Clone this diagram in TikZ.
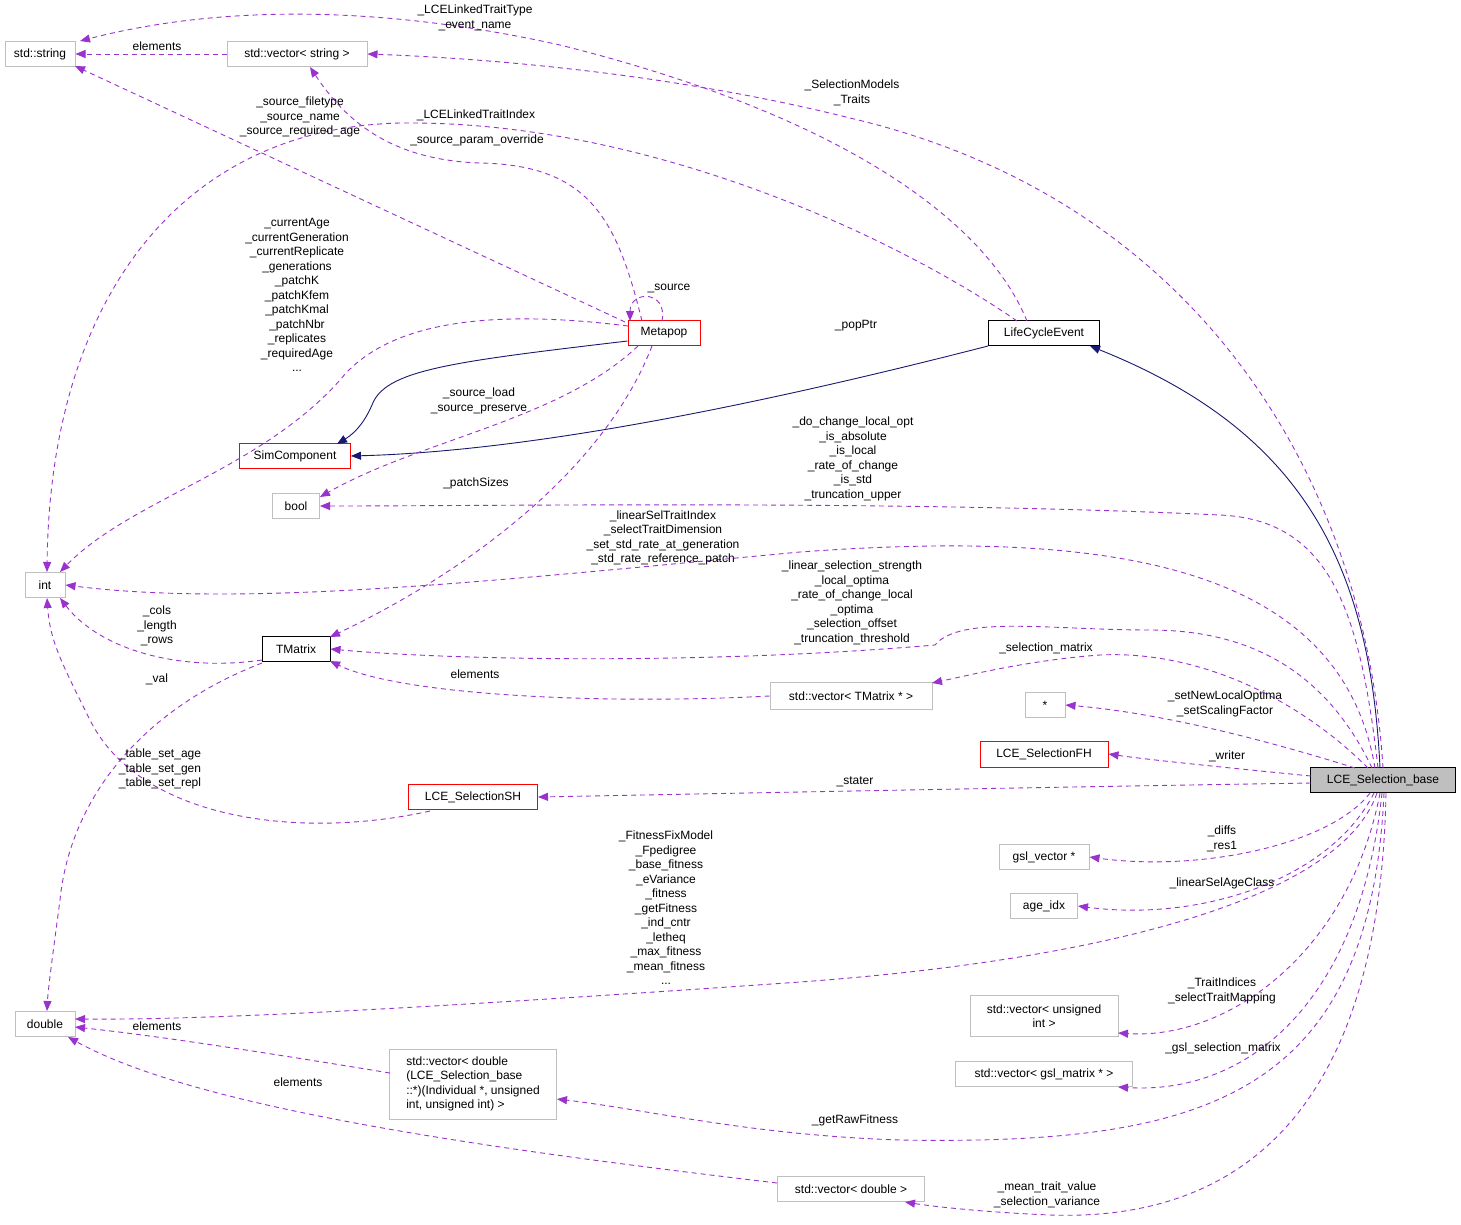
\documentclass[tikz,border=0pt]{standalone}
\usepackage{fontspec}
\setmainfont{Liberation Sans}
\usetikzlibrary{arrows.meta}
\definecolor{pu}{HTML}{9A32CD}
\definecolor{nv}{HTML}{191970}
\definecolor{gb}{HTML}{BFBFBF}
\begin{document}
\begin{tikzpicture}[x=1pt,y=-1pt,
  font=\fontsize{12}{14.5}\selectfont,
  box/.style={draw=gb,line width=1pt,minimum height=25pt,inner sep=4pt,fill=white},
  rbox/.style={box,draw=red},
  kbox/.style={box,draw=black},
  use/.style={draw=pu,line width=0.9pt,dash pattern=on 5pt off 4pt,-{Triangle[length=10pt,width=8pt,fill=pu]}},
  inh/.style={draw=nv,line width=0.9pt,-{Triangle[length=10pt,width=8pt,fill=nv]}},
  lab/.style={align=center,inner sep=0pt}]
\useasboundingbox[fill=white] (0,0) rectangle (1461,1224);
% nodes
\node[box,minimum width=70pt] (str) at (40,54) {std::string};
\node[box,minimum width=140pt] (vs) at (297,54) {std::vector< string >};
\node[rbox,minimum width=72pt] (meta) at (664,333) {Metapop};
\node[kbox,minimum width=111pt] (lce) at (1044,333) {LifeCycleEvent};
\node[rbox,minimum width=111pt] (sim) at (295,456) {SimComponent};
\node[box,minimum width=47pt] (bool) at (296,506) {bool};
\node[box,minimum width=40pt] (int) at (45,585) {int};
\node[kbox,minimum width=68pt] (tm) at (296,649) {TMatrix};
\node[box,minimum width=162pt,minimum height=27pt] (vtm) at (851,696) {std::vector< TMatrix * >};
\node[box,minimum width=40pt] (star) at (1045,705) {*};
\node[rbox,minimum width=128pt,minimum height=26pt] (fh) at (1044,754) {LCE\_SelectionFH};
\node[rbox,minimum width=129pt] (sh) at (473,797) {LCE\_SelectionSH};
\node[box,draw=black,fill=gb,minimum width=145pt] (base) at (1383,780) {LCE\_Selection\_base};
\node[box,minimum width=90pt] (gv) at (1044,857) {gsl\_vector *};
\node[box,minimum width=67pt] (age) at (1044,906) {age\_idx};
\node[box,minimum width=60pt] (dbl) at (45,1024) {double};
\node[box,minimum width=148pt,minimum height=41pt,align=center] (vui) at (1044,1016) {std::vector< unsigned\\int >};
\node[box,minimum width=177pt] (vgm) at (1044,1074) {std::vector< gsl\_matrix * >};
\node[box,minimum width=167pt,minimum height=70pt,align=left] (vdf) at (473,1084) {std::vector< double\\(LCE\_Selection\_base\\::*)(Individual *, unsigned\\int, unsigned int) >};
\node[box,minimum width=147pt] (vd) at (851,1189) {std::vector< double >};
% inheritance
\draw[inh] (meta.west |- 0,341) .. controls (450,362) and (385,370) .. (372,405) .. controls (362,428) and (350,436) .. (337,444);
\draw[inh] (lce.south west) .. controls (700,420) and (500,452) .. (sim.east);
\draw[inh] (1380,768) .. controls (1370,560) and (1300,430) .. (1090,346);
% usage
\draw[use] (vs.west) -- (str.east);
\draw[use] (1027,321) .. controls (990,230) and (860,120) .. (560,45) .. controls (380,5) and (220,5) .. (80,41);
\draw[use] (1383,768) .. controls (1365,480) and (1200,200) .. (850,118) .. controls (650,68) and (450,57) .. (vs.east);
\draw[use] (1017,321) .. controls (900,240) and (650,120) .. (400,123) .. controls (180,128) and (50,300) .. (47,572);
\draw[use] (625,322) -- (75,66);
\draw[use] (642,321) .. controls (617,220) and (590,165) .. (480,163) .. controls (390,160) and (345,120) .. (310,67);
\draw[use] (662,321) .. controls (668,290) and (630,290) .. (630,321);
\draw[use] (628,326) .. controls (500,310) and (390,318) .. (340,380) .. controls (260,470) and (130,500) .. (60,572);
\draw[use] (638,346) .. controls (560,420) and (420,440) .. (320,497);
\draw[use] (652,346) .. controls (600,480) and (450,580) .. (330,637);
\draw[use] (1378,768) .. controls (1360,610) and (1330,520) .. (1220,515) .. controls (900,500) and (500,506) .. (bool.east);
\draw[use] (1375,768) .. controls (1340,560) and (1100,530) .. (800,552) .. controls (500,580) and (250,608) .. (int.east);
\draw[use] (1372,768) .. controls (1330,680) and (1260,630) .. (1150,630) .. controls (1050,630) and (960,615) .. (935,645) .. controls (700,665) and (450,660) .. (tm.east);
\draw[use] (vtm.west) .. controls (600,705) and (400,695) .. (330,661);
\draw[use] (1368,768) .. controls (1300,700) and (1200,650) .. (1100,655) .. controls (1030,660) and (970,675) .. (932,683);
\draw[use] (1355,768) .. controls (1250,735) and (1150,712) .. (star.east);
\draw[use] (1311,776) .. controls (1250,770) and (1150,760) .. (fh.east);
\draw[use] (1311,783) .. controls (1000,788) and (800,792) .. (sh.east);
\draw[use] (430,811) .. controls (300,840) and (140,820) .. (90,720) .. controls (60,660) and (50,640) .. (47,598);
\draw[use] (262,660) .. controls (180,672) and (100,650) .. (60,598);
\draw[use] (262,663) .. controls (140,710) and (70,800) .. (60,900) .. controls (52,960) and (48,990) .. (47,1011);
\draw[use] (1370,793) .. controls (1330,845) and (1200,872) .. (gv.east);
\draw[use] (1374,793) .. controls (1330,880) and (1200,922) .. (age.east);
\draw[use] (1377,793) .. controls (1340,900) and (1100,960) .. (800,982) .. controls (400,1010) and (200,1020) .. (75,1019);
\draw[use] (1380,793) .. controls (1350,950) and (1230,1040) .. (1118,1033);
\draw[use] (1382,793) .. controls (1360,1000) and (1250,1095) .. (1118,1087);
\draw[use] (1384,793) .. controls (1370,1100) and (1200,1145) .. (900,1140) .. controls (750,1135) and (650,1110) .. (557,1099);
\draw[use] (390,1073) .. controls (250,1050) and (150,1035) .. (75,1027);
\draw[use] (777,1183) .. controls (500,1150) and (200,1110) .. (68,1037);
\draw[use] (1386,793) .. controls (1380,1100) and (1250,1222) .. (1050,1215) .. controls (980,1212) and (930,1206) .. (905,1202);
% labels
\node[lab] at (157,46) {elements};
\node[lab] at (475,18) {\_LCELinkedTraitType\\\_event\_name};
\node[lab] at (852,93) {\_SelectionModels\\\_Traits};
\node[lab] at (300,117) {\_source\_filetype\\\_source\_name\\\_source\_required\_age};
\node[lab] at (476,115) {\_LCELinkedTraitIndex};
\node[lab] at (477,140) {\_source\_param\_override};
\node[lab] at (669,288) {\_source};
\node[lab] at (297,295) {\_currentAge\\\_currentGeneration\\\_currentReplicate\\\_generations\\\_patchK\\\_patchKfem\\\_patchKmal\\\_patchNbr\\\_replicates\\\_requiredAge\\...};
\node[lab] at (856,326) {\_popPtr};
\node[lab] at (479,401) {\_source\_load\\\_source\_preserve};
\node[lab] at (476,483) {\_patchSizes};
\node[lab] at (853,459) {\_do\_change\_local\_opt\\\_is\_absolute\\\_is\_local\\\_rate\_of\_change\\\_is\_std\\\_truncation\_upper};
\node[lab] at (663,538) {\_linearSelTraitIndex\\\_selectTraitDimension\\\_set\_std\_rate\_at\_generation\\\_std\_rate\_reference\_patch};
\node[lab] at (852,603) {\_linear\_selection\_strength\\\_local\_optima\\\_rate\_of\_change\_local\\\_optima\\\_selection\_offset\\\_truncation\_threshold};
\node[lab] at (1046,648) {\_selection\_matrix};
\node[lab] at (475,674) {elements};
\node[lab] at (157,626) {\_cols\\\_length\\\_rows};
\node[lab] at (157,679) {\_val};
\node[lab] at (1225,704) {\_setNewLocalOptima\\\_setScalingFactor};
\node[lab] at (1227,756) {\_writer};
\node[lab] at (855,782) {\_stater};
\node[lab] at (160,769) {\_table\_set\_age\\\_table\_set\_gen\\\_table\_set\_repl};
\node[lab] at (1222,839) {\_diffs\\\_res1};
\node[lab] at (1222,883) {\_linearSelAgeClass};
\node[lab] at (666,908) {\_FitnessFixModel\\\_Fpedigree\\\_base\_fitness\\\_eVariance\\\_fitness\\\_getFitness\\\_ind\_cntr\\\_letheq\\\_max\_fitness\\\_mean\_fitness\\...};
\node[lab] at (1222,991) {\_TraitIndices\\\_selectTraitMapping};
\node[lab] at (1223,1048) {\_gsl\_selection\_matrix};
\node[lab] at (855,1120) {\_getRawFitness};
\node[lab] at (157,1026) {elements};
\node[lab] at (298,1082) {elements};
\node[lab] at (1047,1195) {\_mean\_trait\_value\\\_selection\_variance};
\end{tikzpicture}
\end{document}
